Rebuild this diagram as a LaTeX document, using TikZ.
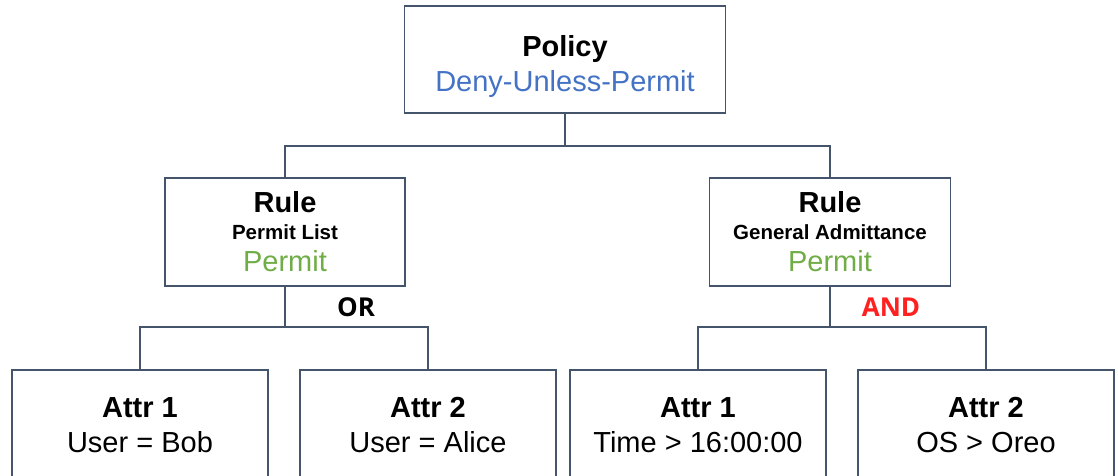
\documentclass[tikz,border=0pt]{standalone}
\usepackage{fontspec}
\setmainfont{Liberation Sans}
\newfontfamily\logicfont{Open Sans}
\definecolor{boxline}{HTML}{44546A}
\definecolor{denyblue}{HTML}{4472C4}
\definecolor{permitgreen}{HTML}{70AD47}
\definecolor{andred}{HTML}{FF2020}
\begin{document}
\begin{tikzpicture}[x=1pt,y=-1pt]
		\tikzstyle{box}=[draw=boxline,line width=1.8pt,fill=white,inner sep=0pt,align=center,font=\fontsize{29}{35}\selectfont];
		\tikzstyle{link}=[draw=boxline,line width=1.8pt];
		\tikzstyle{logic}=[font=\logicfont\bfseries\fontsize{26}{30}\selectfont,anchor=base,inner sep=0pt];
		\useasboundingbox (0,0) rectangle (1118,476);
		\clip (0,0) rectangle (1118,476);
		% policy and its two rules
		\node[box,minimum width=321,minimum height=107] (policy) at (565,59.5) {\rule{0pt}{36pt}\textbf{Policy}\\\textcolor{denyblue}{Deny-Unless-Permit}};
		\node[box,minimum width=240,minimum height=108] (ruleL) at (285,232) {\textbf{Rule}\\[-8pt]{\fontsize{20.5}{24}\selectfont\bfseries Permit List}\\[-3pt]\textcolor{permitgreen}{Permit}};
		\node[box,minimum width=241,minimum height=108] (ruleR) at (830,232) {\textbf{Rule}\\[-8pt]{\fontsize{20.5}{24}\selectfont\bfseries General Admittance}\\[-3pt]\textcolor{permitgreen}{Permit}};
		% attributes, cut off at the bottom
		\node[box,minimum width=256,minimum height=110] (a1) at (140,425) {\textbf{Attr 1}\\User = Bob};
		\node[box,minimum width=256,minimum height=110] (a2) at (428,425) {\textbf{Attr 2}\\User = Alice};
		\node[box,minimum width=256,minimum height=110] (a3) at (698,425) {\textbf{Attr 1}\\Time > 16:00:00};
		\node[box,minimum width=256,minimum height=110] (a4) at (986,425) {\textbf{Attr 2}\\OS > Oreo};
		\coordinate (top) at (565,146);
		\coordinate (orj) at (285,327);
		\coordinate (andj) at (830,327);
		\draw[link] (policy.south) -- (top) -| (ruleL.north)
		(top) -| (ruleR.north);
		\draw[link] (ruleL.south) -- (orj) -| (a1.north)
		(orj) -| (a2.north);
		\draw[link] (ruleR.south) -- (andj) -| (a3.north)
		(andj) -| (a4.north);
		\node[logic] (or) at (356,316) {OR};
		\node[logic,text=andred] (and) at (891,316) {AND};
\end{tikzpicture}
\end{document}
